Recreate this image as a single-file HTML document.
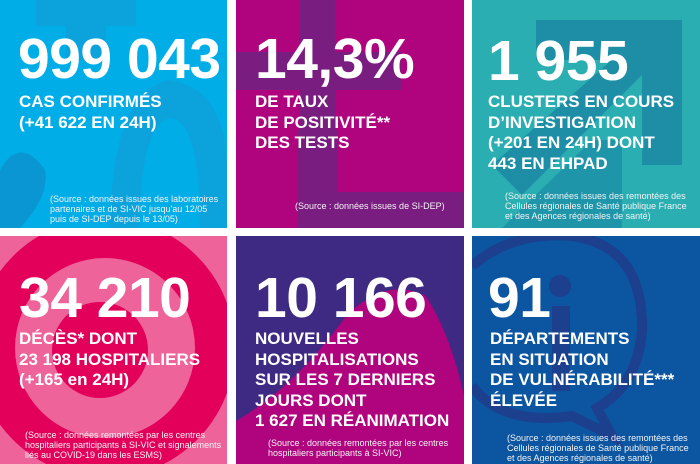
<!DOCTYPE html>
<html><head><meta charset="utf-8"><style>
*{margin:0;padding:0;box-sizing:border-box}
body{width:700px;height:464px;background:#fff;position:relative;overflow:hidden;font-family:"Liberation Sans",Arial,sans-serif;color:#fff}
.t{position:absolute;overflow:hidden}
.n{position:absolute;font-weight:bold;font-size:57px;line-height:57px;letter-spacing:-0.5px;white-space:nowrap}
.s{position:absolute;font-weight:bold;font-size:17px;line-height:20.5px;white-space:nowrap}
.src{position:absolute;font-size:9px;line-height:9.8px;white-space:nowrap;color:#f4f4f4}
svg{position:absolute;left:0;top:0}
</style></head><body>

<div class="t" style="left:0;top:0;width:227px;height:228px;background:#00ade6">
<svg width="227" height="228"><rect x="36" y="0" width="100" height="26" fill="#0ca3dc"/><rect x="66" y="0" width="40" height="60" fill="#0ca3dc"/>
<path d="M0 170 Q20 135 45 170 Q50 195 20 228 L0 228Z" fill="#0a96d2"/>
<path d="M110 228 Q112 90 170 80 Q227 90 227 170 L227 228 L200 228 Q200 120 170 118 Q140 125 140 228Z" fill="#0ca3dc"/></svg>
<div class="n" style="left:18px;top:31px">999 043</div>
<div class="s" style="left:19px;top:92px">CAS CONFIRMÉS<br>(+41 622 EN 24H)</div>
<div class="src" style="left:50px;top:195px">(Source : données issues des laboratoires<br>partenaires et de SI-VIC jusqu'au 12/05<br>puis de SI-DEP depuis le 13/05)</div>
</div>

<div class="t" style="left:236px;top:0;width:228px;height:228px;background:#b0037e">
<svg width="228" height="228" fill="#7a1d80"><rect x="64" y="0" width="35" height="152"/><rect x="0" y="52" width="165" height="38"/><rect x="62" y="130" width="40" height="98"/><rect x="78" y="192" width="150" height="36"/></svg>
<div class="n" style="left:19px;top:31px">14,3%</div>
<div class="s" style="left:19px;top:92px">DE TAUX<br>DE POSITIVITÉ**<br>DES TESTS</div>
<div class="src" style="left:59px;top:202px">(Source : données issues de SI-DEP)</div>
</div>

<div class="t" style="left:472px;top:0;width:228px;height:228px;background:#2aaeb2">
<svg width="228" height="228" fill="#1d8ea6"><path d="M64 20 L210 20 L210 165 L170 165 L170 75 L50 195 L20 165 L140 60 L64 60Z"/><path d="M30 228 L120 140 L150 140 L150 228Z" opacity=".8"/></svg>
<div class="n" style="left:16px;top:33px">1 955</div>
<div class="s" style="left:16px;top:92px">CLUSTERS EN COURS<br>D’INVESTIGATION<br>(+201 EN 24H) DONT<br>443 EN EHPAD</div>
<div class="src" style="left:33px;top:192px">(Source : données issues des remontées des<br>Cellules régionales de Santé publique France<br>et des Agences régionales de santé)</div>
</div>

<div class="t" style="left:0;top:236px;width:227px;height:228px;background:#ee639a">
<svg width="227" height="228"><circle cx="105" cy="112" r="130" fill="#e2005a"/><circle cx="105" cy="112" r="90" fill="#ee639a"/><circle cx="100" cy="114" r="48" fill="#e2005a"/></svg>
<div class="n" style="left:19px;top:34px">34 210</div>
<div class="s" style="left:19px;top:93px">DÉCÈS* DONT<br>23 198 HOSPITALIERS<br>(+165 en 24H)</div>
<div class="src" style="left:25px;top:195px">(Source : données remontées par les centres<br>hospitaliers participants à SI-VIC et signalements<br>liés au COVID-19 dans les ESMS)</div>
</div>

<div class="t" style="left:236px;top:236px;width:228px;height:228px;background:#3e2983">
<svg width="228" height="228"><path d="M0 185 Q60 150 110 80 Q150 40 190 60 Q215 100 228 160 L228 228 L0 228Z" fill="#b0037e"/></svg>
<div class="n" style="left:19px;top:34px">10 166</div>
<div class="s" style="left:19px;top:93px">NOUVELLES<br>HOSPITALISATIONS<br>SUR LES 7 DERNIERS<br>JOURS DONT<br>1 627 EN RÉANIMATION</div>
<div class="src" style="left:32px;top:203px">(Source : données remontées par les centres<br>hospitaliers participants à SI-VIC)</div>
</div>

<div class="t" style="left:472px;top:236px;width:228px;height:228px;background:#0b55a1">
<svg width="228" height="228" fill="none" stroke="#1c3f8e" stroke-width="10"><path d="M0 30 Q40 -5 100 0 Q172 10 170 95 Q165 150 125 172 L140 200 L100 180 Q30 190 0 150"/><rect x="80" y="70" width="18" height="85" fill="#1c3f8e" stroke="none"/><circle cx="88" cy="50" r="11" fill="#1c3f8e" stroke="none"/></svg>
<div class="n" style="left:16px;top:34px">91</div>
<div class="s" style="left:18px;top:93px">DÉPARTEMENTS<br>EN SITUATION<br>DE VULNÉRABILITÉ***<br>ÉLEVÉE</div>
<div class="src" style="left:35px;top:198px">(Source : données issues des remontées des<br>Cellules régionales de Santé publique France<br>et des Agences régionales de santé)</div>
</div>

</body></html>
